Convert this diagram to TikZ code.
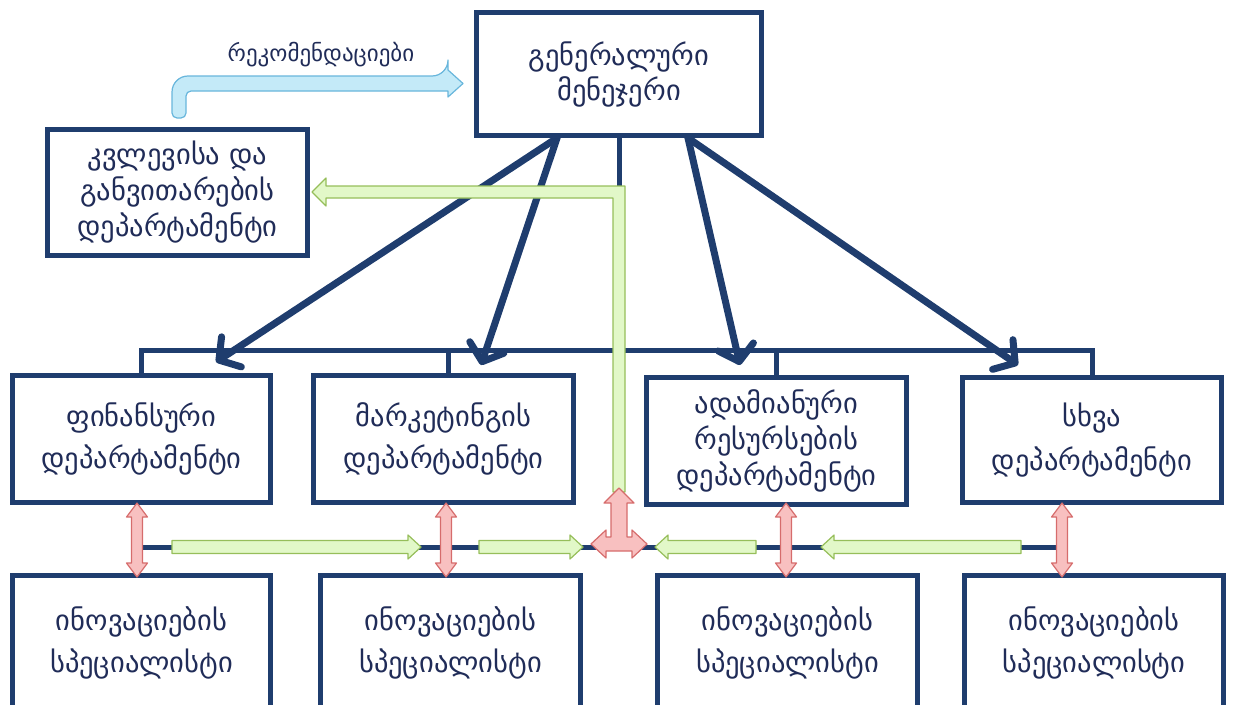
\documentclass[tikz,border=0pt]{standalone}
\usepackage{fontspec}
\newfontfamily\geo{DejaVu Sans}
\usetikzlibrary{arrows.meta,calc}
\definecolor{navy}{RGB}{31,61,110}
\definecolor{txtc}{RGB}{32,44,88}
\definecolor{gfill}{RGB}{226,248,200}
\definecolor{gline}{RGB}{150,190,90}
\definecolor{rfill}{RGB}{248,192,192}
\definecolor{rline}{RGB}{214,108,108}
\definecolor{bfill}{RGB}{196,234,248}
\definecolor{bline}{RGB}{104,182,220}
\tikzset{
  box/.style={draw=navy,line width=5pt,fill=white,inner sep=0pt,text=txtc,align=center},
  two/.style={font=\geo\fontsize{28.5}{42}\selectfont},
  three/.style={font=\geo\fontsize{28.5}{36}\selectfont},
  gmfont/.style={font=\geo\fontsize{28.5}{35}\selectfont},
  bus/.style={draw=navy,line width=5pt},
  mainarrow/.style={draw=navy,line width=7pt,line cap=round,-{Straight Barb[length=15pt,width=36pt,round]}},
  greenarr/.style={draw=gline,fill=gfill,line width=1.2pt,line join=round},
  redarr/.style={draw=rline,fill=rfill,line width=1.2pt,line join=round},
  bluearr/.style={draw=bline,fill=bfill,line width=1.2pt,line join=round}
}
\newcommand\hgarrow[2]{%
  \pgfmathsetmacro\hb{#2-13*sign(#2-#1)}%
  \draw[greenarr] (#1,540.5) -- (\hb,540.5) -- (\hb,535) -- (#2,547) -- (\hb,559) -- (\hb,553.5) -- (#1,553.5) -- cycle;}
\newcommand\vrarrow[1]{%
  \draw[redarr] (#1,503) -- ({#1+10.5},517) -- ({#1+5.5},517) -- ({#1+5.5},563) -- ({#1+10.5},563) -- (#1,577) -- ({#1-10.5},563) -- ({#1-5.5},563) -- ({#1-5.5},517) -- ({#1-10.5},517) -- cycle;}
\begin{document}
\begin{tikzpicture}[x=1pt,y=-1pt]
\useasboundingbox (0,0) rectangle (1236,704);

% boxes
\node[box,gmfont,minimum width=285pt,minimum height=123pt] (gm) at (619,74) {გენერალური\\მენეჯერი};
\node[box,three,minimum width=260pt,minimum height=126pt] (rd) at (177.5,192.5) {კვლევისა და\\განვითარების\\დეპარტამენტი};
\node[box,two,minimum width=258pt,minimum height=127pt] (fin) at (141.5,439) {ფინანსური\\დეპარტამენტი};
\node[box,two,minimum width=260pt,minimum height=127pt] (mkt) at (443.5,439) {მარკეტინგის\\დეპარტამენტი};
\node[box,three,minimum width=260pt,minimum height=127pt] (hr) at (776.5,441) {ადამიანური\\რესურსების\\დეპარტამენტი};
\node[box,two,minimum width=259pt,minimum height=125pt] (oth) at (1092,440) {სხვა\\[2pt]დეპარტამენტი};
\node[box,two,minimum width=258pt,minimum height=136pt] (s1) at (141.5,643) {ინოვაციების\\სპეციალისტი};
\node[box,two,minimum width=260pt,minimum height=136pt] (s2) at (450.5,643) {ინოვაციების\\სპეციალისტი};
\node[box,two,minimum width=260pt,minimum height=136pt] (s3) at (787.5,643) {ინოვაციების\\სპეციალისტი};
\node[box,two,minimum width=259pt,minimum height=136pt] (s4) at (1094,643) {ინოვაციების\\სპეციალისტი};

% recommendation label and arrow
\node[text=txtc,font=\geo\fontsize{23}{26}\selectfont] (rec) at (321,55) {რეკომენდაციები};
\draw[bluearr,rounded corners=16pt] (172,118) -- (172,76) -- (448,76) [sharp corners] -- (448,70) -- (463,83.5) -- (448,97) -- (448,91) [rounded corners=5pt] -- (186,91) -- (186,118) -- cycle;

% upper bus
\draw[bus] (fin.north) -- (fin.north |- 0,350) -- (oth.north |- 0,350) -- (oth.north);
\draw[bus] ([xshift=5pt]mkt.north) -- ([xshift=5pt]mkt.north |- 0,350);
\draw[bus] (hr.north) -- (hr.north |- 0,350);
\draw[bus] (gm.south) -- (gm.south |- 0,350);

% main arrows
\coordinate (a1) at (216,362);
\coordinate (a2) at (481,365);
\coordinate (a3) at (740,365);
\coordinate (a4) at (1018,365);
\draw[mainarrow] ([xshift=-62pt]gm.south) -- (a1);
\draw[mainarrow] ([xshift=-62pt]gm.south) -- (a2);
\draw[mainarrow] ([xshift=69pt]gm.south) -- (a3);
\draw[mainarrow] ([xshift=69pt]gm.south) -- (a4);

% lower bus
\coordinate (r1) at (137,547);
\coordinate (r4) at (1062,547);
\draw[bus] (r1) -- (r4);

% green arrows
\draw[greenarr] (613,492) -- (613,198) -- (326,198) -- (326,206) -- (312,192) -- (326,178) -- (326,186) -- (625,186) -- (625,492) -- cycle;
\hgarrow{172}{421}
\hgarrow{479}{583}
\hgarrow{756}{655}
\hgarrow{1021}{821}

% red arrows
\vrarrow{137}
\vrarrow{446}
\vrarrow{786}
\vrarrow{1062}
\draw[redarr] (619,488) -- (634,503) -- (627,503) -- (627,537) -- (632,537) -- (632,530) -- (647,544) -- (632,558) -- (632,551) -- (606,551) -- (606,558) -- (591,544) -- (606,530) -- (606,537) -- (611,537) -- (611,503) -- (604,503) -- cycle;
\end{tikzpicture}
\end{document}
